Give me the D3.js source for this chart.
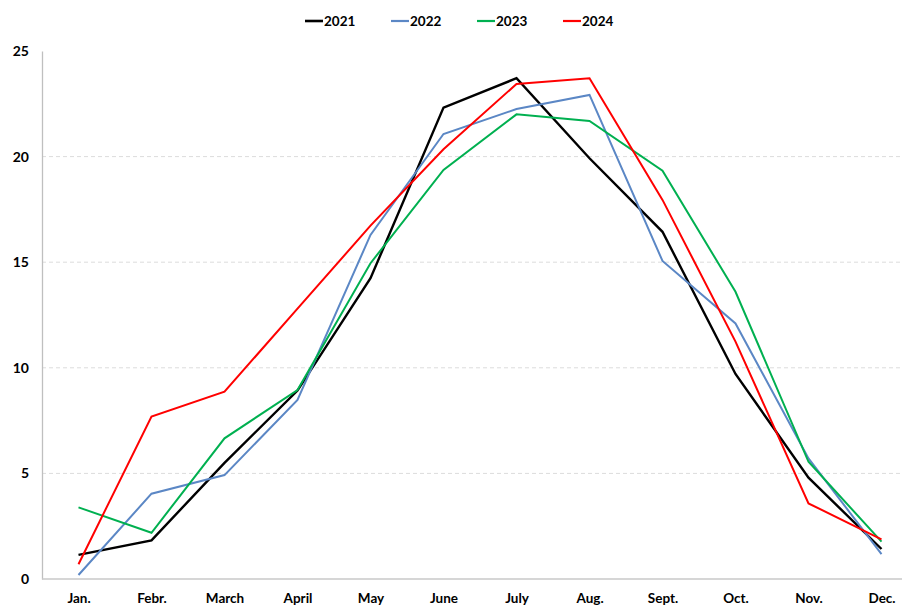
<!DOCTYPE html>
<html>
<head>
<meta charset="utf-8">
<script src="https://cdn.jsdelivr.net/npm/d3@7"></script>
<style>
  html, body { margin: 0; padding: 0; background: #fff; }
  svg { display: block; font-family: Lato, "Open Sans", "Liberation Sans", sans-serif; }
</style>
</head>
<body>
<svg id="chart" width="902" height="608"></svg>
<script>
const months = ["Jan.", "Febr.", "March", "April", "May", "June", "July", "Aug.", "Sept.", "Oct.", "Nov.", "Dec."];
const years = ["2021", "2022", "2023", "2024"];
const v2021 = [1.14, 1.83, 5.5, 8.92, 14.24, 22.32, 23.71, 19.92, 16.44, 9.71, 4.8, 1.42];
const v2022 = [0.19, 4.04, 4.92, 8.48, 16.29, 21.07, 22.25, 22.92, 15.06, 12.1, 5.71, 1.18];
const v2023 = [3.39, 2.19, 6.66, 8.95, 14.95, 19.37, 22.0, 21.69, 19.33, 13.6, 5.55, 1.77];
const v2024 = [0.70, 7.69, 8.87, 12.8, 16.73, 20.35, 23.44, 23.71, 17.95, 11.24, 3.58, 1.88];
const colors = ["#000000", "#5b87c5", "#00b050", "#ff0000"];
const yTicks = [0, 5, 10, 15, 20, 25];

const seriesValues = [v2021, v2022, v2023, v2024];

(function () {
const svg = d3.select("#chart");
const mLeft = 42, mRight = 902, mTop = 51, mBottom = 579;

const x = d3.scalePoint().domain(months).range([78.5, 881.5]);
const y = d3.scaleLinear().domain([0, 25]).range([mBottom, mTop]);

// gridlines
svg.append("g").selectAll("line")
  .data(yTicks.filter(d => d > 0 && d < 25))
  .join("line")
  .attr("x1", mLeft).attr("x2", mRight)
  .attr("y1", d => y(d)).attr("y2", d => y(d))
  .attr("stroke", "#dcdcdc").attr("stroke-width", 1)
  .attr("stroke-dasharray", "4,3");

// y axis
const yAxis = svg.append("g")
  .attr("transform", `translate(${mLeft},0)`)
  .call(d3.axisLeft(y).tickValues(yTicks).tickSize(0).tickPadding(13));
yAxis.select(".domain").attr("stroke", "#bfbfbf").attr("stroke-width", 1.3);
yAxis.selectAll("text")
  .attr("font-size", 14).attr("font-weight", "bold").attr("fill", "#000")
  .attr("font-family", "Lato, 'Open Sans', sans-serif");

// x axis
const xAxis = svg.append("g")
  .attr("transform", `translate(0,${mBottom})`)
  .call(d3.axisBottom(x).tickSize(0).tickPadding(14));
xAxis.select(".domain").attr("d", `M${mLeft},0H${mRight}`).attr("stroke", "#c8c8c8").attr("stroke-width", 1.5);
xAxis.selectAll("text")
  .attr("font-size", 13.5).attr("font-weight", "bold").attr("fill", "#000")
  .attr("font-family", "Lato, 'Open Sans', sans-serif");

// lines
const line = d3.line().x((d, i) => x(months[i])).y(d => y(d));
svg.append("g").selectAll("path")
  .data(seriesValues)
  .join("path")
  .attr("d", d => line(d))
  .attr("fill", "none")
  .attr("stroke", (d, i) => colors[i])
  .attr("stroke-width", (d, i) => i === 0 ? 2.4 : 2)
  .attr("stroke-linejoin", "miter");

// legend
const legend = svg.append("g");
const lg = legend.selectAll("g").data(years).join("g")
  .attr("transform", (d, i) => `translate(${305 + i * 86},21)`);
lg.append("line").attr("x1", 0).attr("x2", 18).attr("y1", 0).attr("y2", 0)
  .attr("stroke", (d, i) => colors[i]).attr("stroke-width", (d, i) => i === 0 ? 2.6 : 2.2);
lg.append("text").attr("x", 19).attr("y", 0).attr("dy", "0.35em")
  .attr("font-size", 13.5).attr("font-weight", "bold").attr("fill", "#000")
  .attr("font-family", "Lato, 'Open Sans', sans-serif")
  .text(d => d);
})();
</script>
</body>
</html>
